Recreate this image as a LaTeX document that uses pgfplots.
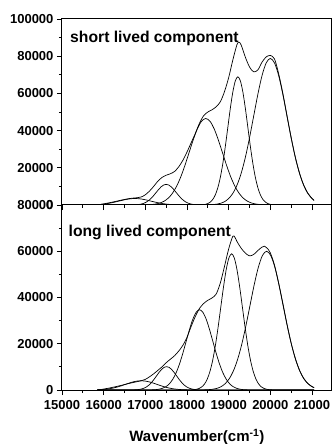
\documentclass[border=0pt]{standalone}
\usepackage{pgfplots}
\pgfplotsset{compat=1.18}
\usepackage{fontspec}
\setmainfont{Liberation Sans}
\begin{document}
\begin{tikzpicture}
\path[use as bounding box] (-62pt,-239pt) rectangle (270pt,205pt);
\pgfplotsset{
  panel/.style={
    scale only axis, width=269.8pt,
    xmin=15000, xmax=21475,
    xtick={15000,16000,...,21000},
    minor x tick num=1, minor y tick num=1,
    tick align=outside,
    xtick pos=left, ytick pos=left,
    major tick length=5pt, minor tick length=3pt,
    every tick/.style={black, line width=0.9pt},
    axis line style={line width=1pt},
    tick label style={font=\fontsize{13}{13}\selectfont\bfseries, /pgf/number format/fixed, /pgf/number format/precision=0},
    xticklabel style={yshift=-2pt},
    /pgf/number format/assume math mode=true,
    /pgf/number format/1000 sep={},
    /pgf/number format/fixed,
    scaled y ticks=false, scaled x ticks=false,
  },
  comp/.style={black, line width=0.7pt, smooth, mark=none},
}
% ---------------- top panel ----------------
\begin{axis}[panel, name=top, at={(0,0)}, anchor=south west, height=186pt,
  ymin=0, ymax=100000, ytick={0,20000,...,100000}, xticklabels={}]
\addplot[comp] coordinates {(15850,0) (16000,600) (16200,1500) (16400,2500) (16600,3400) (16700,3700) (16800,3900) (16900,4300) (17000,5500) (17100,7500) (17200,10000) (17300,12800) (17400,14800) (17500,16000) (17600,16800) (17700,18000) (17800,20500) (17900,24000) (18000,28500) (18100,33500) (18200,38500) (18300,44000) (18400,48000) (18500,50000) (18600,51200) (18700,52800) (18800,55500) (18900,61000) (19000,68500) (19100,78000) (19200,86300) (19250,87500) (19300,86000) (19400,79500) (19500,74200) (19600,71600) (19700,72600) (19800,76800) (19900,79600) (20000,80400) (20100,78500) (20200,70500) (20300,60000) (20400,47900) (20500,36100) (20600,25600) (20700,17100) (20800,10700) (20900,6300) (21000,3500) (21050,2500)};
\addplot[comp] coordinates {(15850,0) (18400,27) (18500,69) (18600,173) (18700,400) (18800,875) (18900,1793) (19000,3462) (19100,6269) (19200,10665) (19300,17042) (19400,25582) (19500,36077) (19600,47795) (19700,59481) (19800,69541) (19900,76375) (20000,78800) (20100,76375) (20200,69541) (20300,59481) (20400,47795) (20500,36077) (20600,25582) (20700,17042) (20800,10665) (20900,6269) (21000,3462) (21050,2510)};
\addplot[comp] coordinates {(15850,0) (18260,23) (18320,61) (18380,151) (18440,350) (18500,765) (18560,1568) (18620,3027) (18680,5482) (18740,9325) (18800,14901) (18860,22368) (18920,31544) (18980,41790) (19040,52008) (19100,60804) (19160,66780) (19220,68900) (19280,66780) (19340,60804) (19400,52008) (19460,41790) (19520,31544) (19580,22368) (19640,14901) (19700,9325) (19760,5482) (19820,3027) (19880,1568) (19940,765) (20000,350) (20060,151) (20120,61) (20180,23) (21050,0)};
\addplot[comp] coordinates {(15850,0) (16850,16) (16950,41) (17050,102) (17150,236) (17250,517) (17350,1058) (17450,2043) (17550,3700) (17650,6293) (17750,10057) (17850,15096) (17950,21289) (18050,28204) (18150,35100) (18250,41036) (18350,45069) (18450,46500) (18550,45069) (18650,41036) (18750,35100) (18850,28204) (18950,21289) (19050,15096) (19150,10057) (19250,6293) (19350,3700) (19450,2043) (19550,1058) (19650,517) (19750,236) (19850,102) (19950,41) (20050,16) (21050,0)};
\addplot[comp] coordinates {(15850,0) (16540,4) (16600,10) (16660,24) (16720,56) (16780,123) (16840,253) (16900,488) (16960,883) (17020,1502) (17080,2401) (17140,3604) (17200,5082) (17260,6732) (17320,8379) (17380,9796) (17440,10758) (17500,11100) (17560,10758) (17620,9796) (17680,8379) (17740,6732) (17800,5082) (17860,3604) (17920,2401) (17980,1502) (18040,883) (18100,488) (18160,253) (18220,123) (18280,56) (18340,24) (18400,10) (18460,4) (21050,0)};
\addplot[comp] coordinates {(15850,211) (15895,278) (15990,474) (16085,757) (16180,1136) (16275,1602) (16370,2123) (16465,2642) (16560,3089) (16655,3392) (16750,3500) (16845,3392) (16940,3089) (17035,2642) (17130,2123) (17225,1602) (17320,1136) (17415,757) (17510,474) (17605,278) (17700,154) (17795,80) (17890,39) (17985,18) (18080,8) (21050,0)};
\node[anchor=west, font=\fontsize{15.7}{15.7}\selectfont\bfseries] at (axis cs:15113,89800) {short lived component};
\end{axis}
% ---------------- bottom panel ----------------
\begin{axis}[panel, name=bot, at={(0,0)}, anchor=north west, height=185pt,
  ymin=0, ymax=80000, ytick={0,20000,...,80000}]
\addplot[comp] coordinates {(15850,0) (16000,400) (16200,1100) (16400,1900) (16600,2800) (16800,3600) (16900,4000) (17000,4600) (17100,5700) (17200,7000) (17300,8500) (17400,10000) (17500,11800) (17600,13300) (17700,14800) (17800,16800) (17900,19300) (18000,22800) (18100,27500) (18200,31800) (18300,35300) (18400,37400) (18500,38800) (18600,39800) (18700,41500) (18800,46300) (18900,53500) (19000,61000) (19100,66500) (19150,66000) (19200,64200) (19300,61300) (19400,59200) (19500,58000) (19600,58600) (19700,60300) (19800,61800) (19860,62200) (19950,60800) (20000,59300) (20100,54000) (20200,46100) (20300,37300) (20400,28300) (20500,20200) (20600,13600) (20700,8500) (20800,5000) (20900,2800) (21000,1460) (21050,1030)};
\addplot[comp] coordinates {(15850,0) (18310,20) (18410,53) (18510,131) (18610,305) (18710,667) (18810,1366) (18910,2636) (19010,4774) (19110,8120) (19210,12976) (19310,19479) (19410,27470) (19510,36392) (19610,45290) (19710,52950) (19810,58154) (19910,60000) (20010,58154) (20110,52950) (20210,45290) (20310,36392) (20410,27470) (20510,19479) (20610,12976) (20710,8120) (20810,4774) (20910,2636) (21010,1366) (21050,1030)};
\addplot[comp] coordinates {(15850,0) (18030,20) (18095,52) (18160,129) (18225,299) (18290,654) (18355,1341) (18420,2588) (18485,4686) (18550,7972) (18615,12738) (18680,19122) (18745,26966) (18810,35725) (18875,44460) (18940,51979) (19005,57088) (19070,58900) (19135,57088) (19200,51979) (19265,44460) (19330,35725) (19395,26966) (19460,19122) (19525,12738) (19590,7972) (19655,4686) (19720,2588) (19785,1341) (19850,654) (19915,299) (19980,129) (20045,52) (20110,20) (21050,0)};
\addplot[comp] coordinates {(15850,0) (17020,12) (17100,31) (17180,76) (17260,176) (17340,386) (17420,790) (17500,1525) (17580,2761) (17660,4696) (17740,7505) (17820,11265) (17900,15887) (17980,21047) (18060,26193) (18140,30623) (18220,33632) (18300,34700) (18380,33632) (18460,30623) (18540,26193) (18620,21047) (18700,15887) (18780,11265) (18860,7505) (18940,4696) (19020,2761) (19100,1525) (19180,790) (19260,386) (19340,176) (19420,76) (19500,31) (19580,12) (21050,0)};
\addplot[comp] coordinates {(15850,0) (16550,3) (16610,9) (16670,22) (16730,51) (16790,112) (16850,230) (16910,444) (16970,804) (17030,1367) (17090,2184) (17150,3279) (17210,4624) (17270,6126) (17330,7624) (17390,8913) (17450,9789) (17510,10100) (17570,9789) (17630,8913) (17690,7624) (17750,6126) (17810,4624) (17870,3279) (17930,2184) (17990,1367) (18050,804) (18110,444) (18170,230) (18230,112) (18290,51) (18350,22) (18410,9) (18470,3) (21050,0)};
\addplot[comp] coordinates {(15850,85) (15950,176) (16045,318) (16140,541) (16235,865) (16330,1299) (16425,1831) (16520,2426) (16615,3019) (16710,3530) (16805,3877) (16900,4000) (16995,3877) (17090,3530) (17185,3019) (17280,2426) (17375,1831) (17470,1299) (17565,865) (17660,541) (17755,318) (17850,176) (17945,91) (18040,44) (18135,20) (18230,9) (21050,0)};
\node[anchor=west, font=\fontsize{15.7}{15.7}\selectfont\bfseries] at (axis cs:15075,68300) {long lived component};
\end{axis}
\node[font=\fontsize{15}{15}\selectfont\bfseries] at ([yshift=-47pt]bot.south) {Wavenumber(cm\textsuperscript{-1})};
\end{tikzpicture}
\end{document}
